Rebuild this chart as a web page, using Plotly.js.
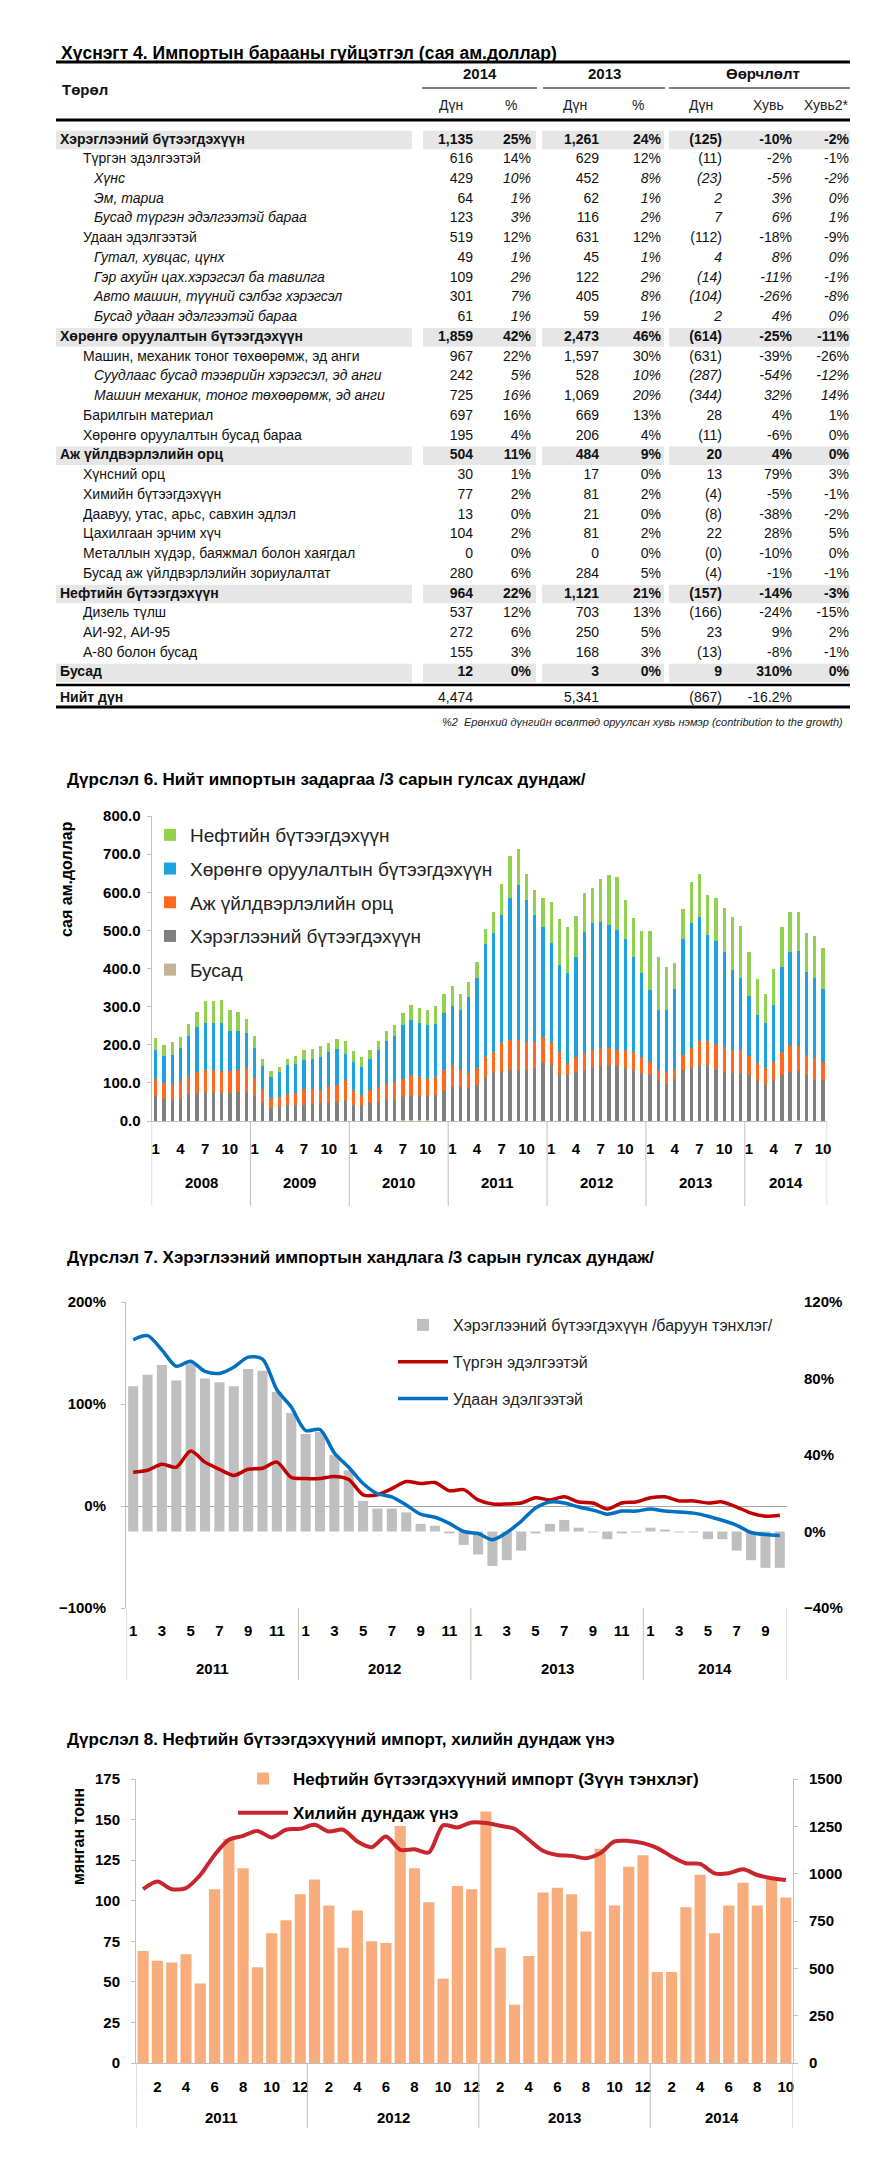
<!DOCTYPE html>
<html><head><meta charset="utf-8">
<script src="https://cdn.plot.ly/plotly-3.0.1.min.js"></script>
<style>
body{margin:0;background:#fff;width:871px;height:2163px;overflow:hidden;position:relative}
.p{position:absolute;left:0;width:871px}
</style></head><body>
<div id="t" class="p" style="top:0;height:740px"></div>
<div id="c6" class="p" style="top:740px;height:480px"></div>
<div id="c7" class="p" style="top:1220px;height:495px"></div>
<div id="c8" class="p" style="top:1715px;height:448px"></div>
<script>
// ---------------- DATA ----------------
// Table 4
const rowLabels = ['Хэрэглээний бүтээгдэхүүн','Түргэн эдэлгээтэй','Хүнс','Эм, тариа','Бусад түргэн эдэлгээтэй бараа','Удаан эдэлгээтэй','Гутал, хувцас, цүнх','Гэр ахуйн цах.хэрэгсэл ба тавилга','Авто машин, түүний сэлбэг хэрэгсэл','Бусад удаан эдэлгээтэй бараа','Хөрөнгө оруулалтын бүтээгдэхүүн','Машин, механик тоног төхөөрөмж, эд анги','Суудлаас бусад тээврийн хэрэгсэл, эд анги','Машин механик, тоног төхөөрөмж, эд анги','Барилгын материал','Хөрөнгө оруулалтын бусад бараа','Аж үйлдвэрлэлийн орц','Хүнсний орц','Химийн бүтээгдэхүүн','Даавуу, утас, арьс, савхин эдлэл','Цахилгаан эрчим хүч','Металлын хүдэр, баяжмал болон хаягдал','Бусад аж үйлдвэрлэлийн зориулалтат','Нефтийн бүтээгдэхүүн','Дизель түлш','АИ-92, АИ-95','А-80 болон бусад','Бусад','Нийт дүн'];
const rowLevel = [0,1,2,2,2,1,2,2,2,2,0,1,2,2,1,1,0,1,1,1,1,1,1,0,1,1,1,0,3];
const val2014 = [1135,616,429,64,123,519,49,109,301,61,1859,967,242,725,697,195,504,30,77,13,104,0,280,964,537,272,155,12,4474];
const pct2014 = [25,14,10,1,3,12,1,2,7,1,42,22,5,16,16,4,11,1,2,0,2,0,6,22,12,6,3,0,null];
const val2013 = [1261,629,452,62,116,631,45,122,405,59,2473,1597,528,1069,669,206,484,17,81,21,81,0,284,1121,703,250,168,3,5341];
const pct2013 = [24,12,8,1,2,12,1,2,8,1,46,30,10,20,13,4,9,0,2,0,2,0,5,21,13,5,3,0,null];
const chgVal = [-125,-11,-23,2,7,-112,4,-14,-104,2,-614,-631,-287,-344,28,-11,20,13,-4,-8,22,-0.2,-4,-157,-166,23,-13,9,-867];
const chgPct = [-10,-2,-5,3,6,-18,8,-11,-26,4,-25,-39,-54,32,4,-6,4,79,-5,-38,28,-10,-1,-14,-24,9,-8,310,-16.2];
const chgContrib = [-2,-1,-2,0,1,-9,0,-1,-8,0,-11,-26,-12,14,1,0,0,3,-1,-2,5,0,-1,-3,-15,2,-1,0,null];

// Chart 6 (Jan 2008 - Oct 2014), сая ам.доллар
const years6 = ['2008','2009','2010','2011','2012','2013','2014'];
const nMonths6 = [12,12,12,12,12,12,10];
const tickMonths6 = [1,4,7,10];
const busad6 = [1,1,1,1,1,1,1,1,2,1,1,1, 1,1,0,0,1,1,1,1,1,1,1,1, 1,1,1,1,1,1,2,2,2,2,1,1, 1,1,1,1,1,1,1,1,1,1,1,1, 1,1,1,1,1,1,1,1,1,1,1,1, 0,0,0,0,0,1,0,0,0,0,0,0, 1,1,1,1,1,1,2,1,1,1];
const hereg6 = [64,56,54,56,69,73,75,75,71,73,76,76, 64,45,35,38,41,41,42,43,45,47,49,54, 42,38,45,49,56,58,62,64,64,64,67,78, 89,89,85,93,115,128,128,133,133,133,137,150, 146,120,120,128,133,137,142,146,142,137,133,124, 120,107,98,111,133,137,146,146,137,128,126,126, 120,107,93,107,120,128,128,120,107,107];
const aj6 = [44,43,43,48,47,55,59,57,58,57,56,62, 49,39,26,24,30,32,40,39,35,43,44,52, 38,29,35,40,41,44,46,55,49,44,48,56, 57,44,39,44,53,53,75,79,79,74,68,69, 59,61,30,40,44,48,48,44,43,48,48,44, 35,28,30,26,39,53,64,64,66,66,59,59, 50,43,44,48,61,70,68,52,56,48];
const horon6 = [76,70,74,86,107,117,122,124,125,106,104,91, 78,58,55,66,74,75,76,80,87,90,96,70, 74,74,82,95,113,121,141,145,142,143,139,148, 155,157,200,236,296,312,337,373,406,372,335,288, 262,226,238,262,319,333,331,323,314,291,247,219, 188,155,164,208,306,328,325,277,268,249,212,191, 157,127,118,148,223,245,247,217,210,190];
const neft6 = [32,30,35,29,31,39,57,59,62,54,48,38, 30,19,16,14,17,21,26,27,30,23,26,34, 28,26,22,26,26,28,33,38,40,38,47,49, 52,41,39,42,38,53,80,110,94,68,64,76, 106,122,121,107,101,91,112,130,139,103,103,111, 155,139,112,70,79,107,114,105,115,117,137,135, 114,95,76,95,105,103,103,103,110,107];

// Chart 7 (Jan 2011 - Oct 2014), %
const years7 = ['2011','2012','2013','2014'];
const nMonths7 = [12,12,12,10];
const tickMonths7 = [1,3,5,7,9,11];
const hereg7 = [76,82,87,79,88,80,78,76,85,84,73,62, 51,52,40,32,16,12,12,10,4,3,-1,-7, -12,-18,-15,-10,-1,4,6,2,-0.5,-4,-1,-0.5, 2,1,-0.5,-0.5,-4,-4,-10,-15,-19,-19];
const turgen7 = [33,35,41,38,54,43,36,30,36,37,43,28, 27,27,29,26,11,11,17,24,22,23,15,16, 6,2,2,3,8,6,9,4,3,-3,3,4, 8,9,5,5,3,4,-1,-7,-10,-9];
const udaan7 = [163,167,153,137,142,132,130,136,146,144,114,97, 74,75,52,38,22,12,9,1,-8,-11,-17,-25, -27,-33,-26,-15,-2,4,3,-1,-4,-8,-5,-5, -3,-5,-6,-7,-10,-14,-19,-26,-28,-29];

// Chart 8 (Jan 2011 - Oct 2014)
const years8 = ['2011','2012','2013','2014'];
const nMonths8 = [12,12,12,10];
const tickMonths8 = [2,4,6,8,10,12];
const imp8 = [69,63,62,67,49,107,138,120,59,80,88,104, 113,97,71,94,75,74,146,120,99,52,109,107, 155,71,36,66,105,108,104,81,132,97,121,128, 56,56,96,116,80,97,111,97,114,102];
const price8 = [918,958,918,924,993,1099,1179,1200,1226,1191,1232,1237, 1258,1223,1232,1170,1140,1196,1126,1129,1112,1255,1244,1270, 1267,1253,1237,1179,1121,1099,1094,1082,1108,1170,1173,1161, 1135,1091,1055,1052,1002,1002,1023,993,976,967];

// ---------------- STYLE ----------------
const W = 871;
const SANS = '"Liberation Sans", Arial, sans-serif';
const GRID = '#BFBFBF';
const cfg = {staticPlot:true, displayModeBar:false};
const px = v => v / W;

function timeAxis(years, nMonths, tickMonths){
  const x = []; const tv = []; const tt = []; const yc = []; const div = [];
  let s = 0;
  years.forEach((y, k) => {
    div.push(s - 0.5);
    for (let m = 1; m <= nMonths[k]; m++) {
      x.push(s + m - 1);
      if (tickMonths.indexOf(m) >= 0) { tv.push(s + m - 1); tt.push(String(m)); }
    }
    yc.push(s + (nMonths[k] - 1) / 2);
    s += nMonths[k];
  });
  div.push(s - 0.5);
  return {x, tv, tt, yc, div, n: s};
}

function titleAnn(text, yy, H){
  return {text, xref:'paper', yref:'paper', x:px(65), y:1 - yy / H, xanchor:'left', yanchor:'middle',
          showarrow:false, font:{family:SANS, size:17, color:'#000', weight:'bold'}};
}
function yearAnns(years, ta, yy, H){
  return years.map((y, k) => ({text:y, xref:'x', yref:'paper', x:ta.yc[k], y:1 - yy / H, showarrow:false, yanchor:'middle',
    font:{family:SANS, size:15, weight:'bold', color:'#000'}}));
}

// ---------------- TABLE ----------------
(function(){
  const H = 740, y0px = 140, rowH = 19.74;
  const n = rowLabels.length;
  const fmtN = v => Math.round(Math.abs(v)).toLocaleString('en-US');
  const fmtChg = v => v < 0 ? '(' + fmtN(v) + ')' : fmtN(v);
  const fmtP = v => v == null ? '' : (Number.isInteger(v) ? String(v) : v.toFixed(1)) + '%';
  const wrap = (s, lvl, isDun) => {
    if (s === '') return '';
    if (lvl === 0) return '<b>' + s + '</b>';
    if (lvl === 2 && !isDun) return '<i>' + s + '</i>';
    return s;
  };
  const rowY = rowLevel.map((l, i) => l === 3 ? i + 0.27 : i);
  const labelX = [60, 83, 94, 60];
  const traces = [];
  traces.push({type:'scatter', mode:'text', x:rowLevel.map(l => labelX[l]), y:rowY,
    text:rowLabels.map((s, i) => rowLevel[i] === 3 ? '<b>' + s + '</b>' : wrap(s, rowLevel[i], false)),
    textposition:'middle right', textfont:{family:SANS, size:14, color:'#111'}, cliponaxis:false, hoverinfo:'skip', showlegend:false});
  const cols = [[val2014, fmtN, true, 473], [pct2014, fmtP, false, 531], [val2013, fmtN, true, 599], [pct2013, fmtP, false, 661],
                [chgVal, fmtChg, false, 722], [chgPct, fmtP, false, 792], [chgContrib, fmtP, false, 849]];
  cols.forEach(c => {
    traces.push({type:'scatter', mode:'text', x:c[0].map(() => c[3]), y:rowY,
      text:c[0].map((v, i) => wrap(v == null ? '' : c[1](v), rowLevel[i], c[2])),
      textposition:'middle left', textfont:{family:SANS, size:14, color:'#111'}, cliponaxis:false, hoverinfo:'skip', showlegend:false});
  });
  const segs = [[56, 412], [423, 536], [542, 664], [669, 850]];
  const shapes = [];
  rowLevel.forEach((l, i) => {
    if (l !== 0) return;
    segs.forEach(s => shapes.push({type:'rect', xref:'x', yref:'y', x0:s[0], x1:s[1], y0:i - 0.47, y1:i + 0.47,
      fillcolor:'#E6E6E6', line:{width:0}, layer:'below'}));
  });
  const L = (xa, xb, y, w) => ({type:'line', xref:'paper', yref:'paper', x0:px(xa), x1:px(xb), y0:1 - y / H, y1:1 - y / H, line:{color:'#000', width:w}});
  shapes.push(L(56, 850, 62, 3), L(56, 850, 120, 3), L(422, 537, 88, 1), L(543, 665, 88, 1), L(669, 850, 88, 1), L(56, 850, 685, 2.5), L(56, 850, 707, 3));
  const A = (text, x, y, anchor, font) => ({text, xref:'paper', yref:'paper', x:px(x), y:1 - y / H, xanchor:anchor, yanchor:'middle', showarrow:false, font});
  const hf = {family:SANS, size:15, color:'#111', weight:'bold'};
  const sf = {family:SANS, size:14, color:'#222'};
  const annotations = [
    A('Хүснэгт 4. Импортын барааны гүйцэтгэл (сая ам.доллар)', 59, 53, 'left', {family:SANS, size:17.5, color:'#000', weight:'bold'}),
    A('Төрөл', 60, 90, 'left', hf), A('2014', 480, 74, 'center', hf), A('2013', 604, 74, 'center', hf), A('Өөрчлөлт', 763, 74, 'center', hf),
    A('Дүн', 451, 105, 'center', sf), A('%', 511, 105, 'center', sf), A('Дүн', 575, 105, 'center', sf), A('%', 638, 105, 'center', sf),
    A('Дүн', 701, 105, 'center', sf), A('Хувь', 768, 105, 'center', sf), A('Хувь2*', 826, 105, 'center', sf),
    A('<i>%2  Ерөнхий дүнгийн өсөлтөд оруулсан хувь нэмэр (contribution to the growth)</i>', 845, 722, 'right', {family:SANS, size:11, color:'#222'})
  ];
  Plotly.newPlot('t', traces, {width:W, height:H, margin:{l:0, r:0, t:0, b:0}, paper_bgcolor:'white', plot_bgcolor:'white', showlegend:false,
    xaxis:{range:[0, W], domain:[0, 1], visible:false, fixedrange:true},
    yaxis:{range:[(H - y0px) / rowH, -y0px / rowH], domain:[0, 1], visible:false, fixedrange:true},
    shapes, annotations}, cfg);
})();

// ---------------- CHART 6 ----------------
(function(){
  const H = 480;
  const ta = timeAxis(years6, nMonths6, tickMonths6);
  const yAxisTop = 76, yAxisBot = 381;
  const series = [
    {y:busad6, name:'Бусад', c:'#C4B394'},
    {y:hereg6, name:'Хэрэглээний бүтээгдэхүүн', c:'#808080'},
    {y:aj6, name:'Аж үйлдвэрлэлийн орц', c:'#FF6A1F'},
    {y:horon6, name:'Хөрөнгө оруулалтын бүтээгдэхүүн', c:'#1BA3E0'},
    {y:neft6, name:'Нефтийн бүтээгдэхүүн', c:'#92D050'}
  ];
  const traces = series.map((s, i) => ({type:'bar', x:ta.x, y:s.y, name:s.name, marker:{color:s.c, line:{width:0}},
    legendgroup:'g' + i, legendrank:series.length - i}));
  const shapes = ta.div.map(d => ({type:'line', xref:'x', yref:'paper', x0:d, x1:d, y0:1 - yAxisBot / H, y1:1 - 466 / H, line:{color:GRID, width:1}}));
  const annotations = [titleAnn('Дүрслэл 6. Нийт импортын задаргаа /3 сарын гулсах дундаж/', 39, H),
    {text:'сая ам.доллар', xref:'paper', yref:'paper', x:px(66), y:1 - 139 / H, textangle:-90, showarrow:false, xanchor:'center', yanchor:'middle', font:{family:SANS, size:16, weight:'bold', color:'#000'}}]
    .concat(yearAnns(years6, ta, 442, H));
  const tf = {family:SANS, size:15, weight:'bold', color:'#000'};
  Plotly.newPlot('c6', traces, {
    width:W, height:H, margin:{l:0, r:0, t:0, b:0}, paper_bgcolor:'white', plot_bgcolor:'white',
    barmode:'stack', bargap:0.6, font:{family:SANS, color:'#000'},
    xaxis:{domain:[px(151.6), px(827.2)], range:[-0.5, ta.n - 0.5], tickmode:'array', tickvals:ta.tv, ticktext:ta.tt, tickangle:0,
      showline:true, linecolor:GRID, showgrid:false, zeroline:false, ticks:'', ticklabelstandoff:14, tickfont:tf},
    yaxis:{domain:[1 - yAxisBot / H, 1 - yAxisTop / H], range:[0, 800], dtick:100, tickformat:'.1f', showline:true, linecolor:GRID,
      ticks:'outside', ticklen:4, tickcolor:GRID, showgrid:false, zeroline:false, ticklabelstandoff:3, tickfont:tf},
    showlegend:true,
    legend:{x:px(150), y:1 - 76 / H, xanchor:'left', yanchor:'top', traceorder:'grouped', tracegroupgap:6,
      font:{family:SANS, size:19, color:'#222'}, bgcolor:'rgba(0,0,0,0)'},
    shapes, annotations
  }, cfg);
})();

// ---------------- CHART 7 ----------------
(function(){
  const H = 495;
  const ta = timeAxis(years7, nMonths7, tickMonths7);
  const top = 82, bot = 388;
  const traces = [
    {type:'bar', x:ta.x, y:hereg7, name:'Хэрэглээний бүтээгдэхүүн /баруун тэнхлэг/', marker:{color:'#BFBFBF'}, yaxis:'y', legendgroup:'a', legendrank:1},
    {type:'scatter', mode:'lines', x:ta.x, y:turgen7, name:'Түргэн эдэлгээтэй', line:{color:'#C00000', width:3.5, shape:'spline', smoothing:0.8}, yaxis:'y2', legendgroup:'b', legendrank:2},
    {type:'scatter', mode:'lines', x:ta.x, y:udaan7, name:'Удаан эдэлгээтэй', line:{color:'#0070C0', width:3.5, shape:'spline', smoothing:0.8}, yaxis:'y2', legendgroup:'c', legendrank:3}
  ];
  const shapes = ta.div.map(d => ({type:'line', xref:'x', yref:'paper', x0:d, x1:d, y0:1 - bot / H, y1:1 - 460 / H, line:{color:GRID, width:1}}));
  const annotations = [titleAnn('Дүрслэл 7. Хэрэглээний импортын хандлага /3 сарын гулсах дундаж/', 37, H)]
    .concat(yearAnns(years7, ta, 448, H));
  const tf = {family:SANS, size:15, weight:'bold', color:'#000'};
  Plotly.newPlot('c7', traces, {
    width:W, height:H, margin:{l:0, r:0, t:0, b:0}, paper_bgcolor:'white', plot_bgcolor:'white',
    bargap:0.3, font:{family:SANS, color:'#000'},
    xaxis:{domain:[px(126), px(787)], range:[-0.5, ta.n - 0.5], tickmode:'array', tickvals:ta.tv, ticktext:ta.tt, tickangle:0,
      showline:false, showgrid:false, zeroline:false, ticks:'', ticklabelstandoff:12, tickfont:tf},
    yaxis:{domain:[1 - bot / H, 1 - top / H], range:[-40, 120], dtick:40, ticksuffix:'%', side:'right', showline:false,
      showgrid:false, zeroline:false, ticks:'', ticklabelstandoff:16, tickfont:tf},
    yaxis2:{overlaying:'y', side:'left', range:[-100, 200], dtick:100, ticksuffix:'%', showline:true, linecolor:GRID,
      ticks:'outside', ticklen:4, tickcolor:GRID, showgrid:false, zeroline:true, zerolinecolor:'#A6A6A6', zerolinewidth:1,
      ticklabelstandoff:12, tickfont:tf},
    showlegend:true,
    legend:{x:px(393), y:1 - 88 / H, xanchor:'left', yanchor:'top', traceorder:'grouped', tracegroupgap:13, itemwidth:50,
      font:{family:SANS, size:16, color:'#222'}, bgcolor:'rgba(0,0,0,0)'},
    shapes, annotations
  }, cfg);
})();

// ---------------- CHART 8 ----------------
(function(){
  const H = 448;
  const ta = timeAxis(years8, nMonths8, tickMonths8);
  const top = 64, bot = 348;
  const traces = [
    {type:'bar', x:ta.x, y:imp8, name:'Нефтийн бүтээгдэхүүний импорт (Зүүн тэнхлэг)', marker:{color:'#F9AD7C'}, yaxis:'y', legendgroup:'a', legendrank:1},
    {type:'scatter', mode:'lines', x:ta.x, y:price8, name:'Хилийн дундаж үнэ', line:{color:'#C8262D', width:4, shape:'spline', smoothing:0.8}, yaxis:'y2', legendgroup:'b', legendrank:2}
  ];
  const shapes = ta.div.map(d => ({type:'line', xref:'x', yref:'paper', x0:d, x1:d, y0:1 - bot / H, y1:1 - 413 / H, line:{color:GRID, width:1}}));
  const tf = {family:SANS, size:15, weight:'bold', color:'#000'};
  const annotations = [titleAnn('Дүрслэл 8. Нефтийн бүтээгдэхүүний импорт, хилийн дундаж үнэ', 25, H),
    {text:'мянган тонн', xref:'paper', yref:'paper', x:px(78), y:1 - 122 / H, textangle:-90, showarrow:false, xanchor:'center', yanchor:'middle', font:{family:SANS, size:16, weight:'bold', color:'#000'}}]
    .concat(yearAnns(years8, ta, 402, H));
  Plotly.newPlot('c8', traces, {
    width:W, height:H, margin:{l:0, r:0, t:0, b:0}, paper_bgcolor:'white', plot_bgcolor:'white',
    bargap:0.22, font:{family:SANS, color:'#000'},
    xaxis:{domain:[px(136), px(793)], range:[-0.5, ta.n - 0.5], tickmode:'array', tickvals:ta.tv, ticktext:ta.tt, tickangle:0,
      showline:true, linecolor:GRID, showgrid:false, zeroline:false, ticks:'', ticklabelstandoff:10, tickfont:tf},
    yaxis:{domain:[1 - bot / H, 1 - top / H], range:[0, 175], dtick:25, showline:true, linecolor:GRID,
      ticks:'outside', ticklen:4, tickcolor:GRID, showgrid:false, zeroline:false, ticklabelstandoff:8, tickfont:tf},
    yaxis2:{overlaying:'y', side:'right', range:[0, 1500], dtick:250, showline:true, linecolor:GRID,
      ticks:'outside', ticklen:4, tickcolor:GRID, showgrid:false, zeroline:false, ticklabelstandoff:8, tickfont:tf},
    showlegend:true,
    legend:{x:px(233), y:1 - 46 / H, xanchor:'left', yanchor:'top', traceorder:'grouped', tracegroupgap:9, itemwidth:50,
      font:{family:SANS, size:17, color:'#000', weight:'bold'}, bgcolor:'rgba(0,0,0,0)'},
    shapes, annotations
  }, cfg);
})();
</script>
</body></html>
